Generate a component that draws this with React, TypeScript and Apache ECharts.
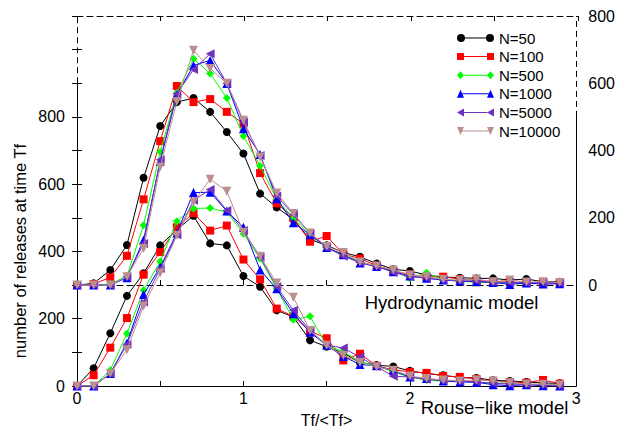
import React, { useEffect, useRef } from "react";
import * as echarts from "echarts";

// Tf/<Tf> sample positions
const tf = [0, 0.1, 0.2, 0.3, 0.4, 0.5, 0.6, 0.7, 0.8, 0.9, 1.0, 1.1, 1.2, 1.3, 1.4, 1.5, 1.6, 1.7, 1.8, 1.9, 2.0, 2.1, 2.2, 2.3, 2.4, 2.5, 2.6, 2.7, 2.8, 2.9];

const seriesNames = ["N=50", "N=100", "N=500", "N=1000", "N=5000", "N=10000"];
const colors = ["#000000", "#ff0000", "#00ff00", "#0000ff", "#7030c0", "#bc8f8f"];

// Hydrodynamic model (right axis)
const hydro50 = [0, 5, 45, 119, 319, 473, 544, 556, 515, 455, 391, 272, 231, 195, 136, 118, 97, 84, 64, 47, 42, 30, 24, 22, 20, 20, 15, 18, 10, 10];
const hydro100 = [0, 3, 23, 87, 255, 428, 592, 544, 553, 515, 480, 333, 243, 200, 129, 146, 92, 79, 58, 42, 32, 24, 25, 18, 14, 10, 9, 8, 7, 6];
const hydro500 = [0, 0, 3, 27, 178, 396, 571, 673, 629, 556, 443, 355, 255, 199, 150, 112, 90, 70, 55, 42, 20, 37, 15, 12, 8, 8, 6, 5, 8, 6];
const hydro1000 = [0, 0, 0, 22, 134, 368, 566, 653, 668, 599, 465, 388, 257, 185, 150, 112, 90, 66, 55, 40, 27, 20, 15, 12, 10, 8, 2, 6, 3, 4];
const hydro5000 = [0, 0, 0, 25, 124, 373, 569, 641, 688, 600, 485, 385, 265, 210, 153, 112, 86, 67, 56, 38, 25, 22, 16, 13, 12, 9, 8, 7, 8, 6];
const hydro10000 = [0, 0, 0, 25, 109, 351, 546, 698, 644, 600, 490, 381, 274, 213, 155, 115, 97, 69, 57, 45, 30, 25, 17, 15, 18, 10, 15, 9, 10, 8];

// Rouse-like model (left axis)
const rouse50 = [0, 53, 157, 268, 335, 418, 465, 506, 424, 418, 327, 295, 225, 205, 136, 117, 98, 70, 62, 58, 45, 37, 32, 25, 24, 17, 15, 12, 9, 8];
const rouse100 = [0, 32, 114, 202, 331, 398, 472, 514, 462, 477, 376, 317, 230, 207, 163, 142, 76, 96, 60, 48, 42, 39, 30, 27, 21, 15, 12, 10, 18, 7];
const rouse500 = [0, 0, 47, 156, 285, 370, 490, 528, 529, 517, 453, 379, 290, 197, 207, 121, 102, 72, 60, 42, 27, 17, 15, 14, 12, 9, 8, 5, 5, 3];
const rouse1000 = [0, 0, 37, 128, 272, 353, 455, 575, 576, 520, 472, 345, 289, 215, 160, 121, 88, 64, 60, 45, 27, 22, 15, 12, 11, 4, 1, 4, 1, 0];
const rouse5000 = [0, 0, 37, 124, 250, 349, 450, 552, 584, 522, 462, 383, 295, 225, 165, 121, 113, 86, 58, 29, 27, 20, 16, 14, 12, 8, 6, 5, 4, 1];
const rouse10000 = [0, 0, 37, 108, 238, 336, 448, 547, 615, 579, 457, 386, 306, 264, 165, 121, 91, 70, 57, 47, 30, 22, 18, 15, 18, 15, 10, 6, 5, 3];

const hydroData = [hydro50, hydro100, hydro500, hydro1000, hydro5000, hydro10000];
const rouseData = [rouse50, rouse100, rouse500, rouse1000, rouse5000, rouse10000];

const leftTickLabels = [0, 200, 400, 600, 800];
const rightTickLabels = [0, 200, 400, 600, 800];
const xTickLabels = [0, 1, 2, 3];

const symbols = ["circle", "rect", "diamond", "triangle", "triangle", "triangle"];
const symbolSizes = [8, 8, 8, 9, 9, 9];
const symbolRotates = [0, 0, 0, 0, 90, 180];

const legendIcons = [
  "path://M0,4 A4,4 0 1 1 8,4 A4,4 0 1 1 0,4 Z M8,3.5 L29,3.5 L29,4.5 L8,4.5 Z M29,4 A4,4 0 1 1 37,4 A4,4 0 1 1 29,4 Z",
  "path://M0,0.5 L7,0.5 L7,7.5 L0,7.5 Z M7,3.5 L30,3.5 L30,4.5 L7,4.5 Z M30,0.5 L37,0.5 L37,7.5 L30,7.5 Z M0,0 L0,0 Z M0,8 L0,8 Z",
  "path://M3.5,0 L7,4 L3.5,8 L0,4 Z M7,3.5 L30,3.5 L30,4.5 L7,4.5 Z M33.5,0 L37,4 L33.5,8 L30,4 Z",
  "path://M3.5,0 L7,8 L0,8 Z M5,3.5 L32,3.5 L32,4.5 L5,4.5 Z M33.5,0 L37,8 L30,8 Z",
  "path://M0,4 L7,0 L7,8 Z M7,3.5 L30,3.5 L30,4.5 L7,4.5 Z M30,4 L37,0 L37,8 Z",
  "path://M0,0 L7,0 L3.5,8 Z M5,3.5 L32,3.5 L32,4.5 L5,4.5 Z M30,0 L37,0 L33.5,8 Z",
];

const FONT = "'Liberation Sans', Arial, Helvetica, sans-serif";

export default function App() {
  const ref = useRef<HTMLDivElement>(null);
  useEffect(() => {
    if (!ref.current) return;
    const chart = echarts.init(ref.current, undefined, { renderer: "svg" });

    const series: any[] = [];
    // helper series: vertical frame pieces
    series.push({
      type: "line",
      name: "frame",
      data: [],
      xAxisIndex: 0,
      yAxisIndex: 0,
      clip: false,
      silent: true,
      markLine: {
        silent: true,
        symbol: ["none", "none"],
        label: { show: false },
        animation: false,
        data: [
          [{ coord: [0, 0], lineStyle: { type: "solid", color: "#000", width: 1 } }, { coord: [0, 900] }],
          [{ coord: [0, 900], lineStyle: { type: [6, 4], color: "#000", width: 1 } }, { coord: [0, 1100] }],
          [{ coord: [3, 0], lineStyle: { type: "solid", color: "#000", width: 1 } }, { coord: [3, 800] }],
          [{ coord: [3, 800], lineStyle: { type: [6, 4], color: "#000", width: 1 } }, { coord: [3, 1100] }],
        ],
      },
    });

    seriesNames.forEach((name, k) => {
      const common = {
        type: "line",
        name,
        xAxisIndex: 0,
        symbol: symbols[k],
        symbolSize: symbolSizes[k],
        symbolRotate: symbolRotates[k],
        lineStyle: { width: 1, color: colors[k] },
        itemStyle: { color: colors[k] },
        emphasis: { disabled: true },
        z: 3 + k,
      };
      series.push({ ...common, yAxisIndex: 1, data: tf.map((x, i) => [x, hydroData[k][i]]) });
      series.push({ ...common, yAxisIndex: 0, data: tf.map((x, i) => [x, rouseData[k][i]]) });
    });

    const xBase = {
      type: "value",
      min: 0,
      max: 3,
      interval: 0.5,
      splitLine: { show: false },
    };
    const gridBox = { left: 77, right: 40, top: 16, bottom: 43, containLabel: false };

    chart.setOption({
      animation: false,
      backgroundColor: "#ffffff",
      textStyle: { fontFamily: FONT },
      grid: [gridBox, gridBox],
      legend: {
        show: true,
        orient: "vertical",
        left: 452,
        top: 25,
        itemWidth: 37,
        itemHeight: 8,
        itemGap: 2.6,
        selectedMode: false,
        textStyle: { fontSize: 15, color: "#000", fontFamily: FONT, lineHeight: 16 },
        data: seriesNames.map((n, k) => ({ name: n, icon: legendIcons[k], itemStyle: { color: colors[k] } })),
      },
      xAxis: [
        {
          ...xBase,
          gridIndex: 0,
          position: "bottom",
          axisLine: { show: true, lineStyle: { color: "#000", width: 1 } },
          axisTick: { show: true, inside: true, length: 5, lineStyle: { color: "#000" } },
          axisLabel: {
            show: true,
            margin: 4,
            fontSize: 16,
            color: "#000",
            fontFamily: FONT,
            formatter: (v: number) => (xTickLabels.includes(v) ? String(v) : ""),
          },
        },
        {
          ...xBase,
          gridIndex: 0,
          position: "bottom",
          offset: -101,
          axisLine: { show: true, onZero: false, lineStyle: { color: "#000", width: 1, type: [6, 4] } },
          axisTick: { show: true, inside: true, length: 5, lineStyle: { color: "#000", type: "solid" } },
          axisLabel: { show: false },
        },
        {
          ...xBase,
          gridIndex: 1,
          position: "top",
          axisLine: { show: true, onZero: false, lineStyle: { color: "#000", width: 1, type: [6, 4] } },
          axisTick: { show: true, inside: true, length: 5, lineStyle: { color: "#000", type: "solid" } },
          axisLabel: { show: false },
        },
      ],
      yAxis: [
        {
          type: "value",
          gridIndex: 0,
          position: "left",
          min: 0,
          max: 1100,
          interval: 100,
          splitLine: { show: false },
          axisLine: { show: false },
          axisTick: { show: true, inside: true, length: 5, lineStyle: { color: "#000" } },
          axisLabel: {
            show: true,
            margin: 12,
            fontSize: 16,
            color: "#000",
            fontFamily: FONT,
            formatter: (v: number) => (leftTickLabels.includes(v) ? String(v) : ""),
          },
        },
        {
          type: "value",
          gridIndex: 0,
          position: "right",
          min: -300,
          max: 800,
          interval: 100,
          splitLine: { show: false },
          axisLine: { show: false },
          axisTick: { show: true, inside: true, length: 5, lineStyle: { color: "#000" } },
          axisLabel: {
            show: true,
            margin: 12,
            fontSize: 16,
            color: "#000",
            fontFamily: FONT,
            formatter: (v: number) => (rightTickLabels.includes(v) ? String(v) : ""),
          },
        },
        {
          type: "value",
          gridIndex: 1,
          min: 0,
          max: 1100,
          show: false,
        },
      ],
      graphic: [
        {
          type: "text",
          x: 451.5,
          y: 302,
          style: { text: "Hydrodynamic model", fontSize: 18.5, fontFamily: FONT, fill: "#000", align: "center", verticalAlign: "middle" },
        },
        {
          type: "text",
          x: 494.5,
          y: 407,
          style: { text: "Rouse\u2212like model", fontSize: 18.5, fontFamily: FONT, fill: "#000", align: "center", verticalAlign: "middle" },
        },
        {
          type: "text",
          x: 326.5,
          y: 420,
          style: { text: "Tf/<Tf>", fontSize: 16, fontFamily: FONT, fill: "#000", align: "center", verticalAlign: "middle" },
        },
        {
          type: "text",
          x: 20,
          y: 251,
          rotation: Math.PI / 2,
          style: { text: "number of releases at time Tf", fontSize: 16.5, fontFamily: FONT, fill: "#000", align: "center", verticalAlign: "middle" },
        },
      ],
      series,
    });
    return () => chart.dispose();
  }, []);
  return <div ref={ref} style={{ position: "fixed", left: 0, top: 0, width: 618, height: 429 }} />;
}
